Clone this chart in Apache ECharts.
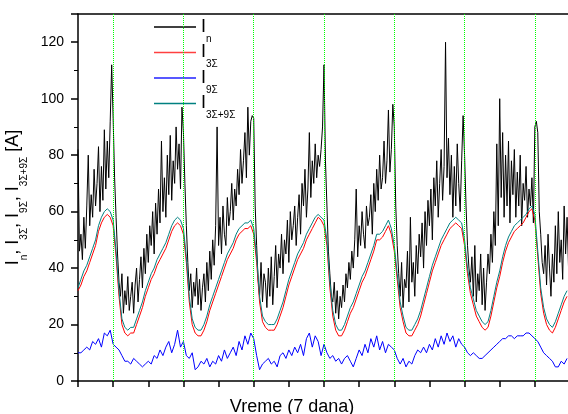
<!DOCTYPE html>
<html>
<head>
<meta charset="utf-8">
<script src="https://cdn.jsdelivr.net/npm/echarts@6/dist/echarts.min.js"></script>
<style>
html,body{margin:0;padding:0;background:#fff;overflow:hidden;}
#c{width:568px;height:414px;}
</style>
</head>
<body>
<div id="c"></div>
<script>
// ---- data ----
// time axis: hours over 7 days
const xTicksHours = 12;          // tick spacing (h)
const dayMarks = [12, 36, 60, 84, 108, 132, 156]; // green dotted day boundaries (h)
const yTickLabels = [0, 20, 40, 60, 80, 100, 120];

// I_n, sampled every 0.5 h
const blackStep = 0.5;
const I_n = [
 82,46,52,43,58,47,62,80,55,66,58,75,62,70,83,60,76,64,89,68,85,72,92,112,
 93,72,58,45,35,30,38,24,32,27,37,25,30,35,24,34,40,28,36,44,33,47,38,52,
 42,55,48,60,45,63,52,68,56,85,60,72,58,80,66,87,64,78,70,90,75,84,68,97,
 88,70,55,42,32,38,26,35,30,40,27,36,25,33,38,28,42,32,46,36,50,41,55,90,
 48,58,45,62,52,48,65,55,60,70,57,68,62,75,66,82,70,78,88,72,97,80,92,94,
 93,62,48,36,30,42,28,38,35,26,40,30,44,27,37,48,33,45,40,52,38,50,45,57,
 42,60,50,55,62,48,58,66,52,70,62,75,58,68,88,65,78,70,84,72,80,76,82,90,
 112,78,62,46,38,30,28,35,24,32,22,30,26,34,28,38,33,42,36,46,40,50,68,44,
 55,48,60,52,47,62,55,58,66,52,70,60,75,64,80,68,72,85,70,78,96,74,82,98,
 90,62,48,38,30,42,26,36,33,46,28,58,35,42,30,48,38,52,44,56,40,60,48,64,
 55,68,50,72,62,78,58,70,82,64,76,120,72,86,66,80,58,76,62,84,70,60,78,94,
 80,62,48,40,35,44,30,48,28,38,32,45,27,40,25,35,45,38,52,42,60,48,84,55,
 100,65,88,58,80,62,85,56,78,66,82,58,74,62,80,55,70,64,76,58,68,62,72,56,
 90,92,88,60,52,42,38,48,34,52,40,30,45,35,55,38,60,42,50,36,62,45,58,40
];

// I_3Σ, I_9Σ, I_3Σ+9Σ, sampled every 1 h
const hourStep = 1;
const I_3S = [
 32,34,37,39,42,45,48,53,56,58,59,58, 55,44,30,20,17,16,17,17,20,23,26,30,
 33,36,38,41,43,45,47,50,53,55,56,55, 52,42,28,20,17,16,16,18,21,25,28,31,
 34,37,40,43,45,47,50,52,53,54,54,55, 52,42,28,21,19,18,18,18,20,23,26,30,
 34,37,40,43,45,47,50,52,54,56,58,57, 55,48,33,23,18,16,16,18,21,24,26,29,
 32,35,37,40,43,46,50,50,51,53,55,52, 46,36,26,21,17,16,16,18,20,23,27,31,
 35,39,42,45,48,50,52,54,55,56,55,54, 48,38,31,27,23,21,19,18,19,23,28,33,
 37,42,46,49,51,53,54,55,56,58,60,61, 57,44,31,24,20,18,17,19,22,25,28,30
];
const I_9S = [
 10,10,11,12,11,14,13,15,12,17,16,18, 13,12,11,9,7,7,6,8,7,6,5,6,
 7,6,9,8,11,9,12,14,10,13,18,12, 14,9,8,10,4,5,7,6,8,5,7,6,
 9,7,11,8,10,12,9,14,11,16,13,17, 15,9,4,6,7,8,6,7,5,9,10,8,
 11,9,12,10,13,9,15,17,12,16,14,9, 13,10,8,9,7,8,6,8,9,7,5,8,
 11,9,13,10,15,12,16,11,14,10,13,12, 11,8,6,8,5,7,6,9,11,10,12,10,
 13,11,15,12,16,13,17,14,16,12,15,13, 12,10,9,10,9,8,8,9,10,11,12,13,
 14,15,15,16,16,15,16,16,16,17,17,16, 15,14,12,10,9,8,7,5,5,7,6,8
];
const I_3S9S = [
 33,36,39,41,44,47,50,55,58,60,61,60, 57,46,32,22,19,18,19,19,22,25,28,32,
 35,38,40,43,45,47,49,52,55,57,58,57, 54,44,30,22,19,18,18,20,23,27,30,33,
 36,39,42,45,47,49,52,54,55,56,56,57, 54,44,30,23,21,20,20,20,22,25,28,32,
 36,39,42,45,47,49,52,54,56,58,59,58, 57,50,35,25,20,18,18,20,23,26,28,31,
 34,37,39,42,45,48,52,52,53,55,57,54, 48,38,28,23,19,18,18,20,22,25,29,33,
 37,41,44,47,50,52,54,56,57,58,57,56, 50,40,33,29,25,23,21,20,21,25,30,35,
 39,44,48,51,53,55,56,57,58,59,61,62, 59,46,33,26,22,20,19,21,24,27,30,32
];

const seriesNames = ['I_n', 'I_3Σ', 'I_9Σ', 'I_3Σ+9Σ'];
const legendSubs = ['n', '3Σ', '9Σ', '3Σ+9Σ'];

// ---- chart ----
function pairs(vals, step) { return vals.map((v, i) => [i * step, v]); }

const FONT = '"Liberation Sans", Arial, sans-serif';
const richSub = {
  b: { fontSize: 18, lineHeight: 26, padding: [4, 0, 0, 0], verticalAlign: 'top', fontFamily: FONT, color: '#000' },
  s: { fontSize: 10, lineHeight: 26, padding: [20, 0, 0, 0], verticalAlign: 'top', fontFamily: FONT, color: '#000' }
};

const GREEN = '#00ff00';
const chart = echarts.init(document.getElementById('c'), null, { renderer: 'canvas' });
const option = {
  animation: false,
  backgroundColor: '#fff',
  grid: { left: 78, top: 14, width: 492, height: 367, outerBoundsMode: 'none', containLabel: false },
  legend: {
    data: seriesNames,
    orient: 'vertical',
    left: 154, top: 14,
    padding: 0,
    itemGap: -4.5,
    itemWidth: 42,
    itemHeight: 1.5,
    icon: 'rect',
    formatter: (name) => '{b|I}{s|' + legendSubs[seriesNames.indexOf(name)] + '}',
    textStyle: { rich: richSub, padding: [0, 0, 0, 0] }
  },
  xAxis: [{
    type: 'value', min: 0, max: 168, interval: xTicksHours,
    axisLine: { lineStyle: { color: '#000', width: 1.5 } },
    axisTick: { show: true, inside: false, length: 6, lineStyle: { color: '#000', width: 1.5 } },
    axisLabel: { show: false },
    splitLine: { show: false },
    name: 'Vreme (7 dana)', nameLocation: 'middle', nameGap: 17,
    nameTextStyle: { fontFamily: FONT, fontSize: 18, color: '#000', padding: [0, 64, 0, 0] }
  }, {
    type: 'value', min: 0, max: 168, position: 'top',
    axisLine: { show: true, lineStyle: { color: '#000', width: 1.5 } },
    axisTick: { show: false }, axisLabel: { show: false }, splitLine: { show: false }
  }],
  yAxis: {
    type: 'value', min: 0, max: 130, interval: 20,
    axisLine: { show: true, lineStyle: { color: '#000', width: 1.5 } },
    axisTick: { show: true, inside: false, length: 7, lineStyle: { color: '#000', width: 1.5 } },
    minorTick: { show: true, splitNumber: 2, length: 4, lineStyle: { color: '#000', width: 1 } },
    axisLabel: {
      fontFamily: FONT, fontSize: 14, color: '#000', margin: 14,
      formatter: (v) => (yTickLabels.indexOf(v) >= 0 ? String(v) : '')
    },
    splitLine: { show: false },
    name: '{b|I}{s|n}{b|, I}{s|3Σ}{b|, I}{s|9Σ}{b|, I}{s|3Σ+9Σ}{b| [A]}',
    nameLocation: 'middle', nameRotate: 90, nameGap: 36,
    nameTextStyle: { rich: richSub }
  },
  series: [
    { name: seriesNames[0], type: 'line', data: pairs(I_n, blackStep), symbol: 'none',
      lineStyle: { color: '#000', width: 1 }, itemStyle: { color: '#000' },
      markLine: {
        silent: true, symbol: ['none', 'none'], label: { show: false },
        itemStyle: { color: GREEN },
        lineStyle: { color: GREEN, type: [1, 1], width: 1, opacity: 1 },
        emphasis: { disabled: true },
        data: dayMarks.map(h => ({ xAxis: h, lineStyle: { color: GREEN } }))
      }
    },
    { name: seriesNames[1], type: 'line', data: pairs(I_3S, hourStep), symbol: 'none',
      lineStyle: { color: '#ff0000', width: 1 }, itemStyle: { color: '#ff4040' } },
    { name: seriesNames[2], type: 'line', data: pairs(I_9S, hourStep), symbol: 'none',
      lineStyle: { color: '#0000ff', width: 1 }, itemStyle: { color: '#2020ff' } },
    { name: seriesNames[3], type: 'line', data: pairs(I_3S9S, hourStep), symbol: 'none',
      lineStyle: { color: '#008080', width: 1 }, itemStyle: { color: '#008080' } }
  ]
};
chart.setOption(option);
</script>
</body>
</html>
